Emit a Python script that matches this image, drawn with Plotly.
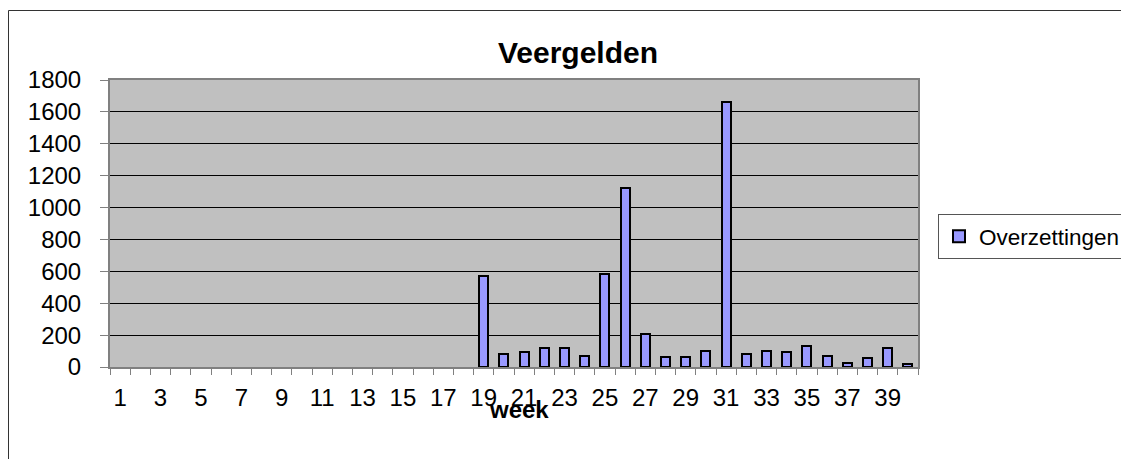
import plotly.graph_objects as go

weeks = list(range(1, 41))
overzettingen = [None]*18 + [571, 80, 95, 122, 122, 70, 585, 1122, 210, 64, 60, 103,
                             1660, 83, 101, 96, 133, 66, 27, 54, 118, 20]
y_ticks = list(range(0, 1801, 200))
x_labels = list(range(1, 41, 2))

OFF = 8  # browser body margin
W, H = 1129 - OFF, 459 - OFF
L, R, T, B = 110 - OFF, 918 - OFF, 80 - OFF, 367 - OFF
pw, ph = R - L, B - T

fig = go.Figure()
fig.add_trace(go.Bar(
    x=weeks, y=overzettingen, name="Overzettingen", width=0.45,
    marker=dict(color="#9999FF", line=dict(color="black", width=2)),
))

fig.update_layout(
    width=W, height=H,
    margin=dict(l=L, r=W - R, t=T, b=H - B, autoexpand=False),
    paper_bgcolor="white", plot_bgcolor="#C0C0C0",
    font=dict(family="Liberation Sans, Arial", size=24, color="black"),
    title=dict(text="<b>Veergelden</b>", font=dict(size=30), xref="container", x=(578 - OFF) / W,
               xanchor="center", yref="container", y=1 - (52 - OFF) / H, yanchor="middle"),
    showlegend=True,
    legend=dict(x=(938 - OFF - L) / pw, xanchor="left", y=(B - (236.5 - OFF)) / ph, yanchor="middle",
                bordercolor="#555555", borderwidth=1, bgcolor="white",
                font=dict(size=22.5), itemwidth=30),
    bargap=0,
)
fig.update_xaxes(
    range=[0.5, 40.5], tickmode="array", tickvals=x_labels, ticktext=[str(v) for v in x_labels],
    ticks="", showgrid=False, zeroline=False,
    showline=True, linecolor="#808080", linewidth=2, mirror=True,
    minor=dict(tick0=0.5, dtick=1, ticks="outside", ticklen=6, tickcolor="#808080", showgrid=False),
    tickfont=dict(size=24), ticklabelstandoff=8,
)
fig.update_yaxes(
    range=[0, 1800], tickmode="array", tickvals=y_ticks,
    ticks="outside", ticklen=8, tickcolor="#808080",
    showgrid=True, gridcolor="black", gridwidth=1, zeroline=False,
    showline=True, linecolor="#808080", linewidth=2, mirror=True,
    tickfont=dict(size=24), ticklabelstandoff=14,
)
fig.add_annotation(text="<b>week</b>", xref="paper", yref="paper",
                   x=(519 - OFF - L) / pw, y=(B - (409 - OFF)) / ph,
                   xanchor="center", yanchor="middle", showarrow=False, font=dict(size=24))
fig.add_shape(type="rect", xref="paper", yref="paper",
              x0=(0.5 - L) / pw, x1=(W + 5 - L) / pw, y0=(B - (H + 5)) / ph, y1=(B - 2.5) / ph,
              line=dict(color="#333333", width=1), fillcolor="rgba(0,0,0,0)", layer="below")
fig.write_html("out.html")
